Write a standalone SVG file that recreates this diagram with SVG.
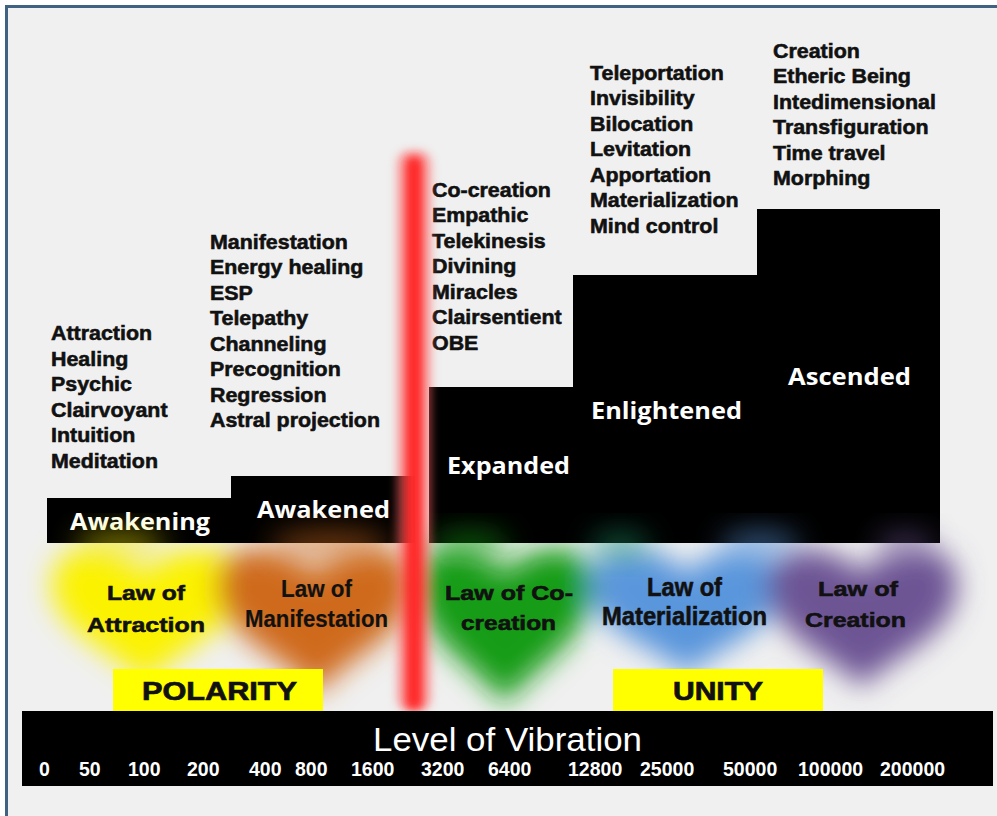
<svg xmlns="http://www.w3.org/2000/svg" width="997" height="816" viewBox="0 0 997 816">
<defs>
  <filter id="blur" x="-30%" y="-30%" width="160%" height="160%"><feGaussianBlur stdDeviation="14"/></filter>
  <filter id="blurS" x="-100%" y="-10%" width="300%" height="120%"><feGaussianBlur stdDeviation="4"/></filter>
  <filter id="glow" x="-50%" y="-50%" width="200%" height="200%"><feGaussianBlur stdDeviation="14"/></filter>
</defs>
<style>
  .box { fill: #000; }
  .lvl { font-family: "Open Sans", "DejaVu Sans", sans-serif; font-weight: 700; fill: #fff; font-size: 23px; }
  .list { font-family: "Liberation Sans", Arial, sans-serif; font-weight: 700; fill: #111; font-size: 20px; stroke: #111; stroke-width: 0.55px; }
  .law { font-family: "Liberation Sans", Arial, sans-serif; font-weight: 700; fill: #111; stroke: #111; stroke-width: 0.6px; }
  .tag { fill: #ffff00; }
  .tagt { font-family: "Liberation Sans", Arial, sans-serif; font-weight: 700; fill: #111; font-size: 25px; stroke: #111; stroke-width: 0.7px; }
  .num { font-family: "Liberation Sans", Arial, sans-serif; font-weight: 700; fill: #fff; font-size: 19.5px; }
</style>
<rect x="0" y="0" width="997" height="816" fill="#ffffff"/>
<rect id="frame" x="6.5" y="6.5" width="1000" height="820" fill="#f0f0f0" stroke="#3f6283" stroke-width="3"/>

<!-- colour blobs -->
<g id="blobs" filter="url(#blur)">
  <path fill="#fbf200" d="M145,575 C130,548 52,530 52,585 C52,632 120,652 145,685 C170,652 238,632 238,585 C238,530 160,548 145,575 Z"/>
  <path fill="#cf6a1a" d="M315,575 C300,548 217,530 217,585 C217,637 290,657 318,695 C342,657 412,637 412,585 C412,530 330,548 315,575 Z"/>
  <path fill="#169c18" d="M505,575 C490,548 418,530 418,585 C418,642 480,667 505,705 C530,667 592,642 592,585 C592,530 520,548 505,575 Z"/>
  <path fill="#5a96dc" d="M688,575 C673,548 590,530 590,585 C590,632 660,647 688,675 C713,647 780,632 780,585 C780,530 703,548 688,575 Z"/>
  <path fill="#6d5494" d="M862,575 C847,548 768,530 768,585 C768,637 837,657 862,688 C887,657 957,637 957,585 C957,530 877,548 862,575 Z"/>
</g>

<g id="awakening">
  <rect class="box" x="47" y="498" width="184" height="45"/>
  <text class="lvl" x="70" y="530" textLength="140" lengthAdjust="spacingAndGlyphs">Awakening</text>
</g>
<g id="awakened">
  <rect class="box" x="231" y="476" width="184" height="67"/>
  <text class="lvl" x="257" y="518" textLength="133" lengthAdjust="spacingAndGlyphs">Awakened</text>
</g>
<g id="expanded">
  <rect class="box" x="429" y="387" width="146" height="156"/>
  <text class="lvl" x="447" y="474" textLength="123" lengthAdjust="spacingAndGlyphs">Expanded</text>
</g>
<g id="enlightened">
  <rect class="box" x="573" y="275" width="185" height="268"/>
  <text class="lvl" x="591" y="419" textLength="151" lengthAdjust="spacingAndGlyphs">Enlightened</text>
</g>
<g id="ascended">
  <rect class="box" x="757" y="209" width="183" height="334"/>
  <text class="lvl" x="788" y="385" textLength="123" lengthAdjust="spacingAndGlyphs">Ascended</text>
</g>

<!-- faint glow of blobs into the black bars -->
<g id="glows" filter="url(#glow)" opacity="0.5">
  <ellipse cx="120" cy="545" rx="45" ry="14" fill="#f5e800"/>
  <ellipse cx="330" cy="545" rx="60" ry="16" fill="#cf6a1a"/>
  <ellipse cx="470" cy="545" rx="40" ry="16" fill="#169c18"/>
  <ellipse cx="620" cy="545" rx="30" ry="14" fill="#1a9a6a"/>
  <ellipse cx="760" cy="545" rx="40" ry="16" fill="#5a96dc"/>
  <ellipse cx="905" cy="545" rx="30" ry="14" fill="#6d5494"/>
</g>

<g id="list-awakening" class="list" transform="translate(51,0) scale(1.07,1)">
  <text x="0" y="340">Attraction</text>
  <text x="0" y="365.6">Healing</text>
  <text x="0" y="391.2">Psychic</text>
  <text x="0" y="416.8">Clairvoyant</text>
  <text x="0" y="442.4">Intuition</text>
  <text x="0" y="468">Meditation</text>
</g>
<g id="list-awakened" class="list" transform="translate(210,0) scale(1.07,1)">
  <text x="0" y="249">Manifestation</text>
  <text x="0" y="274.5">Energy healing</text>
  <text x="0" y="300">ESP</text>
  <text x="0" y="325.5">Telepathy</text>
  <text x="0" y="351">Channeling</text>
  <text x="0" y="376.5">Precognition</text>
  <text x="0" y="402">Regression</text>
  <text x="0" y="427.5">Astral projection</text>
</g>
<g id="list-expanded" class="list" transform="translate(432,0) scale(1.07,1)">
  <text x="0" y="197">Co-creation</text>
  <text x="0" y="222.5">Empathic</text>
  <text x="0" y="248">Telekinesis</text>
  <text x="0" y="273.5">Divining</text>
  <text x="0" y="299">Miracles</text>
  <text x="0" y="324.5">Clairsentient</text>
  <text x="0" y="350">OBE</text>
</g>
<g id="list-enlightened" class="list" transform="translate(590,0) scale(1.07,1)">
  <text x="0" y="80">Teleportation</text>
  <text x="0" y="105.5">Invisibility</text>
  <text x="0" y="131">Bilocation</text>
  <text x="0" y="156.5">Levitation</text>
  <text x="0" y="182">Apportation</text>
  <text x="0" y="207.5">Materialization</text>
  <text x="0" y="233">Mind control</text>
</g>
<g id="list-ascended" class="list" transform="translate(773,0) scale(1.07,1)">
  <text x="0" y="58">Creation</text>
  <text x="0" y="83.5">Etheric Being</text>
  <text x="0" y="109">Intedimensional</text>
  <text x="0" y="134.5">Transfiguration</text>
  <text x="0" y="160">Time travel</text>
  <text x="0" y="185.5">Morphing</text>
</g>

<g id="law-attraction" class="law" font-size="21">
  <text x="107" y="600" textLength="78" lengthAdjust="spacingAndGlyphs">Law of</text>
  <text x="87" y="632" textLength="118" lengthAdjust="spacingAndGlyphs">Attraction</text>
</g>
<g id="law-manifestation" class="law" font-size="23">
  <text x="281" y="597" textLength="71" lengthAdjust="spacingAndGlyphs" stroke-width="0.2">Law of</text>
  <text x="245" y="627" textLength="143" lengthAdjust="spacingAndGlyphs" stroke-width="0.2">Manifestation</text>
</g>
<g id="law-cocreation" class="law" font-size="21">
  <text x="445" y="600" textLength="128" lengthAdjust="spacingAndGlyphs">Law of Co-</text>
  <text x="461" y="630" textLength="95" lengthAdjust="spacingAndGlyphs">creation</text>
</g>
<g id="law-materialization" class="law" font-size="25">
  <text x="647" y="596" textLength="75" lengthAdjust="spacingAndGlyphs">Law of</text>
  <text x="602" y="625" textLength="165" lengthAdjust="spacingAndGlyphs">Materialization</text>
</g>
<g id="law-creation" class="law" font-size="21">
  <text x="818" y="596" textLength="80" lengthAdjust="spacingAndGlyphs">Law of</text>
  <text x="805" y="627" textLength="101" lengthAdjust="spacingAndGlyphs">Creation</text>
</g>

<g id="polarity">
  <rect class="tag" x="113" y="669" width="210" height="42"/>
  <text class="tagt" x="142" y="700" textLength="155" lengthAdjust="spacingAndGlyphs">POLARITY</text>
</g>
<g id="unity">
  <rect class="tag" x="613" y="669" width="210" height="42"/>
  <text class="tagt" x="673" y="700" textLength="90" lengthAdjust="spacingAndGlyphs">UNITY</text>
</g>

<g id="divider">
  <rect x="396" y="150" width="36" height="562" rx="14" fill="#ff6a6a" opacity="0.5" filter="url(#blurS)"/>
  <rect x="405" y="156" width="18" height="554" rx="8" fill="#ff2a2a" filter="url(#blurS)"/>
</g>

<g id="vibration-bar">
  <rect class="box" x="22" y="711" width="971" height="75"/>
  <text x="373" y="751" font-family="Liberation Sans, Arial, sans-serif" font-size="33" fill="#fff" textLength="269" lengthAdjust="spacingAndGlyphs">Level of Vibration</text>
  <g class="num">
    <text x="39" y="776">0</text>
    <text x="79" y="776">50</text>
    <text x="128" y="776">100</text>
    <text x="187" y="776">200</text>
    <text x="249" y="776">400</text>
    <text x="295" y="776">800</text>
    <text x="351" y="776">1600</text>
    <text x="421" y="776">3200</text>
    <text x="488" y="776">6400</text>
    <text x="568" y="776">12800</text>
    <text x="640" y="776">25000</text>
    <text x="723" y="776">50000</text>
    <text x="798" y="776">100000</text>
    <text x="880" y="776">200000</text>
  </g>
</g>
</svg>
